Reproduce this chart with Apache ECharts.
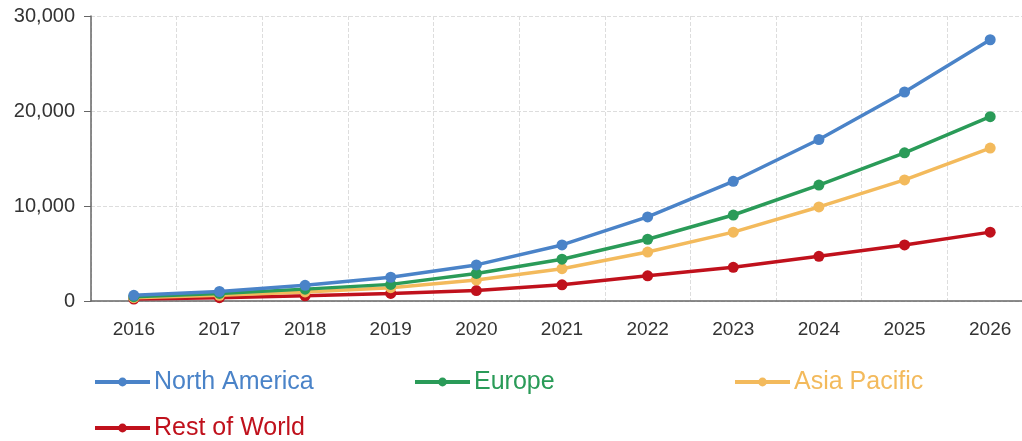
<!DOCTYPE html>
<html>
<head>
<meta charset="utf-8">
<script src="https://cdn.jsdelivr.net/npm/echarts@6/dist/echarts.min.js"></script>
<style>
  html, body { margin: 0; padding: 0; background: #fff; overflow: hidden; }
  /* the plot runs slightly past the right edge of the window, as in the reference */
  #chart { width: 1033px; height: 441px; }
</style>
</head>
<body>
<div id="chart"></div>
<script>
var years = ['2016', '2017', '2018', '2019', '2020', '2021', '2022', '2023', '2024', '2025', '2026'];
var northAmerica = [600, 1000, 1650, 2500, 3800, 5900, 8850, 12600, 17000, 22000, 27500];
var europe = [450, 800, 1250, 1750, 2900, 4400, 6500, 9050, 12200, 15600, 19400];
var asiaPacific = [350, 600, 950, 1400, 2200, 3400, 5150, 7250, 9900, 12750, 16100];
var restOfWorld = [200, 350, 550, 800, 1100, 1700, 2650, 3550, 4700, 5900, 7250];
var yTicks = [0, 10000, 20000, 30000];

var names = ['North America', 'Europe', 'Asia Pacific', 'Rest of World'];
var colors = ['#4a83c8', '#2a9b58', '#f3ba5c', '#c0111c'];
var values = [northAmerica, europe, asiaPacific, restOfWorld];
// legend slots: [left, top]
var legendPos = [[93, 368], [413, 368], [733, 368], [93, 414]];

var font = 'Liberation Sans, Arial, sans-serif';
var chart = echarts.init(document.getElementById('chart'));

function makeSeries(i) {
  return {
    name: names[i],
    type: 'line',
    data: values[i],
    symbol: 'circle',
    symbolSize: 11,
    color: colors[i],
    lineStyle: { width: 3.5, color: colors[i] },
    itemStyle: { color: colors[i] },
    z: 10 - i
  };
}

function makeLegend(i) {
  return {
    data: [{ name: names[i], textStyle: { color: colors[i] } }],
    left: legendPos[i][0],
    top: legendPos[i][1],
    padding: 0,
    itemGap: 0,
    itemWidth: 55,
    itemHeight: 11,
    lineStyle: { width: 4 },
    textStyle: { fontSize: 25, lineHeight: 28, padding: [0, 0, 0, -1], fontFamily: font }
  };
}

chart.setOption({
  animation: false,
  grid: { left: 91, right: 0, top: 16, bottom: 140 },
  legend: [0, 1, 2, 3].map(makeLegend),
  xAxis: {
    type: 'category',
    data: years,
    boundaryGap: true,
    axisLine: { lineStyle: { color: '#666', width: 1.5 } },
    axisTick: { alignWithLabel: true, length: 6, lineStyle: { color: '#666' } },
    axisLabel: { color: '#333', fontSize: 19, margin: 19, fontFamily: font },
    splitLine: { show: true, lineStyle: { color: '#ddd', type: 'dashed' } }
  },
  yAxis: {
    type: 'value',
    min: yTicks[0],
    max: yTicks[yTicks.length - 1],
    interval: 10000,
    axisLine: { show: true, lineStyle: { color: '#666', width: 1.5 } },
    axisTick: { show: true, length: 7, lineStyle: { color: '#666' } },
    axisLabel: {
      color: '#333', fontSize: 20, margin: 16,
      fontFamily: font,
      formatter: function (v) { return v.toLocaleString('en-US'); }
    },
    splitLine: { show: true, lineStyle: { color: '#ddd', type: 'dashed' } }
  },
  series: [0, 1, 2, 3].map(makeSeries)
});

window.addEventListener('resize', function () { chart.resize(); });
</script>
</body>
</html>
